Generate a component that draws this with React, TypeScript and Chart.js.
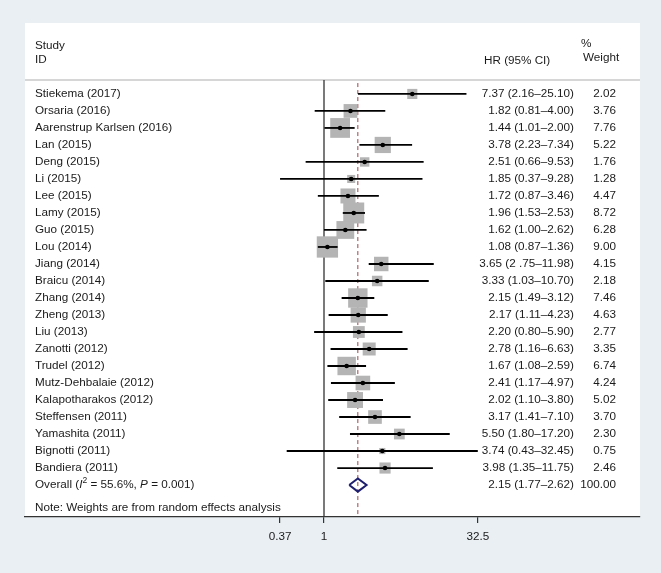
import React, { useEffect, useRef } from "react";
import { Chart, registerables } from "chart.js";
Chart.register(...registerables);

const studies = [
  "Stiekema (2017)", "Orsaria (2016)", "Aarenstrup Karlsen (2016)", "Lan (2015)", "Deng (2015)",
  "Li (2015)", "Lee (2015)", "Lamy (2015)", "Guo (2015)", "Lou (2014)", "Jiang (2014)",
  "Braicu (2014)", "Zhang (2014)", "Zheng (2013)", "Liu (2013)", "Zanotti (2012)", "Trudel (2012)",
  "Mutz-Dehbalaie (2012)", "Kalapotharakos (2012)", "Steffensen (2011)", "Yamashita (2011)",
  "Bignotti (2011)", "Bandiera (2011)",
];
const hr = [7.37, 1.82, 1.44, 3.78, 2.51, 1.85, 1.72, 1.96, 1.62, 1.08, 3.65, 3.33, 2.15, 2.17, 2.2, 2.78, 1.67, 2.41, 2.02, 3.17, 5.5, 3.74, 3.98];
const ciLow = [2.16, 0.81, 1.01, 2.23, 0.66, 0.37, 0.87, 1.53, 1.0, 0.87, 2.75, 1.03, 1.49, 1.11, 0.8, 1.16, 1.08, 1.17, 1.1, 1.41, 1.8, 0.43, 1.35];
const ciHigh = [25.1, 4.0, 2.0, 7.34, 9.53, 9.28, 3.46, 2.53, 2.62, 1.36, 11.98, 10.7, 3.12, 4.23, 5.9, 6.63, 2.59, 4.97, 3.8, 7.1, 17.2, 32.45, 11.75];
const weights = [2.02, 3.76, 7.76, 5.22, 1.76, 1.28, 4.47, 8.72, 6.28, 9.0, 4.15, 2.18, 7.46, 4.63, 2.77, 3.35, 6.74, 4.24, 5.02, 3.7, 2.3, 0.75, 2.46];
const ciLabels = [
  "7.37 (2.16–25.10)", "1.82 (0.81–4.00)", "1.44 (1.01–2.00)", "3.78 (2.23–7.34)", "2.51 (0.66–9.53)",
  "1.85 (0.37–9.28)", "1.72 (0.87–3.46)", "1.96 (1.53–2.53)", "1.62 (1.00–2.62)", "1.08 (0.87–1.36)",
  "3.65 (2 .75–11.98)", "3.33 (1.03–10.70)", "2.15 (1.49–3.12)", "2.17 (1.11–4.23)", "2.20 (0.80–5.90)",
  "2.78 (1.16–6.63)", "1.67 (1.08–2.59)", "2.41 (1.17–4.97)", "2.02 (1.10–3.80)", "3.17 (1.41–7.10)",
  "5.50 (1.80–17.20)", "3.74 (0.43–32.45)", "3.98 (1.35–11.75)",
];
const weightLabels = weights.map((w) => w.toFixed(2));
const overallHr = 2.15;
const overallLow = 1.77;
const overallHigh = 2.62;
const overallLabel = "2.15 (1.77–2.62)";
const overallWeight = "100.00";
const xTicks = [0.37, 1, 32.5];

const FONT = "Liberation Sans, Arial, sans-serif";
const FS = 11.7;
const TEXT = "#1a1a1a";
const Y_MIN = -0.82;
const Y_MAX = 24.88;
const OVERALL_ROW = studies.length;
const NOTE_ROW = 24.35;

export default function App() {
  const ref = useRef<HTMLCanvasElement | null>(null);

  useEffect(() => {
    const canvas = ref.current;
    if (!canvas) return;

    const panelPlugin = {
      id: "panel",
      beforeDraw(chart: any) {
        const { ctx, chartArea } = chart;
        ctx.save();
        ctx.fillStyle = "#e9eff3";
        ctx.fillRect(0, 0, chart.width, chart.height);
        ctx.fillStyle = "#ffffff";
        ctx.fillRect(chartArea.left, 23, chartArea.right - chartArea.left, chartArea.bottom - 23);
        ctx.strokeStyle = "#c8c8c8";
        ctx.lineWidth = 1.5;
        ctx.beginPath();
        ctx.moveTo(chartArea.left, chartArea.top);
        ctx.lineTo(chartArea.right, chartArea.top);
        ctx.stroke();
        ctx.restore();
      },
    };

    const textPlugin = {
      id: "forestText",
      afterDatasetsDraw(chart: any) {
        const { ctx, chartArea } = chart;
        const yS = chart.scales.y;
        const left = chartArea.left + 10;
        const hrRight = chartArea.right - 66;
        const wRight = chartArea.right - 24;
        const top = chartArea.top;
        const base = `${FS}px ${FONT}`;
        ctx.save();
        ctx.fillStyle = TEXT;
        ctx.font = base;
        ctx.textBaseline = "middle";
        // header
        ctx.textAlign = "left";
        ctx.fillText("Study", left, top - 34);
        ctx.fillText("ID", left, top - 20);
        ctx.fillText("HR (95% CI)", chartArea.right - 156, top - 19);
        ctx.fillText("%", chartArea.right - 59, top - 36);
        ctx.fillText("Weight", chartArea.right - 57, top - 22);
        // rows
        studies.forEach((s, i) => {
          const y = yS.getPixelForValue(i);
          ctx.textAlign = "left";
          ctx.fillText(s, left, y);
          ctx.textAlign = "right";
          ctx.fillText(ciLabels[i], hrRight, y);
          ctx.fillText(weightLabels[i], wRight, y);
        });
        // overall
        const yo = yS.getPixelForValue(OVERALL_ROW);
        ctx.textAlign = "left";
        let x = left;
        const piece = (t: string, font: string, dy = 0) => {
          ctx.font = font;
          ctx.fillText(t, x, yo + dy);
          x += ctx.measureText(t).width;
        };
        piece("Overall (", base);
        piece("I", `italic ${FS}px ${FONT}`);
        piece("2", `8.5px ${FONT}`, -4);
        piece(" = 55.6%, ", base);
        piece("P", `italic ${FS}px ${FONT}`);
        piece(" = 0.001)", base);
        ctx.font = base;
        ctx.textAlign = "right";
        ctx.fillText(overallLabel, hrRight, yo);
        ctx.fillText(overallWeight, wRight, yo);
        // note
        ctx.textAlign = "left";
        ctx.fillText("Note: Weights are from random effects analysis", left, yS.getPixelForValue(NOTE_ROW));
        ctx.restore();
      },
    };

    const ciDatasets = studies.map((_, i) => ({
      type: "line" as const,
      data: [
        { x: ciLow[i], y: i },
        { x: ciHigh[i], y: i },
      ],
      borderColor: "#000000",
      borderWidth: 1.8,
      pointRadius: 0,
      order: 1,
    }));

    const chart = new Chart(canvas, {
      type: "scatter",
      data: {
        datasets: [
          {
            type: "scatter",
            data: hr.map((v, i) => ({ x: v, y: i })),
            pointStyle: "circle",
            pointRadius: 2.3,
            backgroundColor: "#000000",
            borderWidth: 0,
            order: 0,
          },
          ...ciDatasets,
          {
            type: "line",
            data: [
              { x: overallLow, y: OVERALL_ROW },
              { x: overallHr, y: OVERALL_ROW - 0.39 },
              { x: overallHigh, y: OVERALL_ROW },
              { x: overallHr, y: OVERALL_ROW + 0.39 },
              { x: overallLow, y: OVERALL_ROW },
            ],
            borderColor: "#1e1e6e",
            borderWidth: 2,
            borderJoinStyle: "miter",
            pointRadius: 0,
            order: 2,
          },
          {
            type: "scatter",
            data: hr.map((v, i) => ({ x: v, y: i })),
            pointStyle: "rect",
            pointRadius: (c: any) => (7.1 * Math.sqrt(weights[c.dataIndex])) / Math.SQRT2,
            backgroundColor: "#b4b4b4",
            borderWidth: 0,
            order: 3,
          },
          {
            type: "line",
            data: [
              { x: overallHr, y: -0.64 },
              { x: overallHr, y: Y_MAX },
            ],
            borderColor: "#a0444a",
            borderWidth: 1,
            borderDash: [4, 3],
            pointRadius: 0,
            order: 4,
          },
          {
            type: "line",
            data: [
              { x: 1, y: Y_MIN },
              { x: 1, y: Y_MAX },
            ],
            borderColor: "#333333",
            borderWidth: 1.3,
            pointRadius: 0,
            order: 5,
          },
        ] as any,
      },
      options: {
        animation: false,
        responsive: false,
        events: [],
        layout: { padding: { left: 25, right: 21, top: 80, bottom: 0 } },
        plugins: { legend: { display: false }, tooltip: { enabled: false } },
        scales: {
          x: {
            type: "logarithmic",
            min: Math.exp((25 - 324) / 44.2),
            max: Math.exp((640 - 324) / 44.2),
            afterBuildTicks: (scale: any) => {
              scale.ticks = xTicks.map((v) => ({ value: v }));
            },
            afterFit: (scale: any) => {
              scale.height = 56;
            },
            ticks: {
              autoSkip: false,
              maxRotation: 0,
              padding: 7,
              color: TEXT,
              font: { family: FONT, size: FS },
              callback: (v: any) => String(v),
            },
            grid: {
              display: true,
              drawOnChartArea: false,
              drawTicks: true,
              tickLength: 6,
              color: "#333333",
              lineWidth: 1.2,
            },
            border: { display: true, color: "#333333", width: 1.2 },
          },
          y: {
            type: "linear",
            display: false,
            reverse: true,
            min: Y_MIN,
            max: Y_MAX,
          },
        },
      } as any,
      plugins: [panelPlugin, textPlugin],
    });

    return () => chart.destroy();
  }, []);

  return (
    <div style={{ position: "fixed", left: 0, top: 0, width: 661, height: 573 }}>
      <canvas ref={ref} width={661} height={573} />
    </div>
  );
}
